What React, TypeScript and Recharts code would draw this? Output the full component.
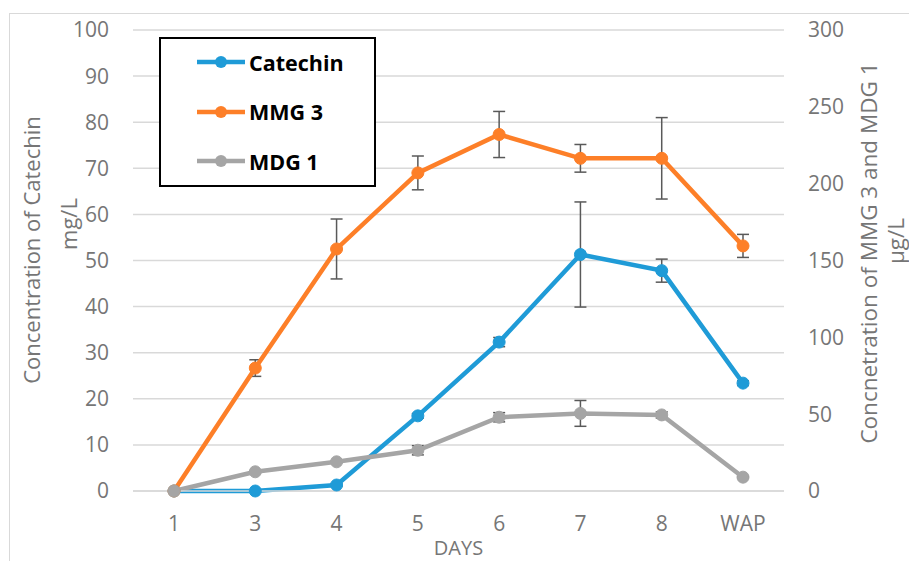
import React from 'react';
import { ComposedChart, Line, XAxis, YAxis, CartesianGrid, ErrorBar, Legend } from 'recharts';

const days = ['1', '3', '4', '5', '6', '7', '8', 'WAP'];
const catechin = [0, 0, 1.3, 16.3, 32.3, 51.3, 47.8, 23.4];
const catechinErr = [0, 0, 0.3, 0.5, 1, 11.4, 2.5, 0.5];
const mmg3 = [0, 80, 157.5, 207, 232, 216.5, 216.5, 159.5];
const mmg3Err = [0, 5.4, 19.5, 11, 15, 9, 26.5, 7.5];
const mdg1 = [0, 12.5, 19, 26.5, 48, 50.5, 49.5, 9];
const mdg1Err = [0, 0.5, 0.5, 3, 3, 8.4, 2, 0.5];

const leftTicks = [0, 10, 20, 30, 40, 50, 60, 70, 80, 90, 100];
const rightTicks = [0, 50, 100, 150, 200, 250, 300];

const BLUE = '#1f9bd7';
const ORANGE = '#fd7f28';
const GRAY = '#a5a5a5';
const TEXT = '#767676';
const FONT = '"Open Sans", "Liberation Sans", sans-serif';

const data = days.map((d, i) => ({
  day: d,
  catechin: catechin[i],
  catechinErr: catechinErr[i],
  mmg3: mmg3[i],
  mmg3Err: mmg3Err[i],
  mdg1: mdg1[i],
  mdg1Err: mdg1Err[i],
}));

const series = [
  { key: 'catechin', name: 'Catechin', color: BLUE },
  { key: 'mmg3', name: 'MMG 3', color: ORANGE },
  { key: 'mdg1', name: 'MDG 1', color: GRAY },
];

const renderLegend = () => (
  <div
    style={{
      position: 'relative',
      boxSizing: 'border-box',
      width: 217,
      height: 150,
      border: '2px solid #000',
      background: '#fff',
      fontFamily: FONT,
    }}
  >
    {series.map((s, i) => (
      <div
        key={s.key}
        style={{
          position: 'absolute',
          left: 0,
          top: 9 + i * 49.5,
          height: 28,
          display: 'flex',
          alignItems: 'center',
        }}
      >
        <svg width={88} height={20} style={{ flex: 'none' }}>
          <line x1={36} y1={10} x2={84} y2={10} stroke={s.color} strokeWidth={4.5} />
          <circle cx={60} cy={10} r={6} fill={s.color} />
        </svg>
        <span style={{ fontWeight: 700, fontSize: 21.5, color: '#000', whiteSpace: 'nowrap' }}>{s.name}</span>
      </div>
    ))}
  </div>
);

const leftTitle = () => (
  <g fill={TEXT} fontFamily={FONT} fontSize={22}>
    <text x={31} y={250} transform="rotate(-90 31 250)" textAnchor="middle" dominantBaseline="central">
      Concentration of Catechin
    </text>
    <text x={68} y={224} transform="rotate(-90 68 224)" textAnchor="middle" dominantBaseline="central">
      mg/L
    </text>
  </g>
);

const rightTitle = () => (
  <g fill={TEXT} fontFamily={FONT} fontSize={22.5}>
    <text x={868} y={253} transform="rotate(-90 868 253)" textAnchor="middle" dominantBaseline="central">
      Concnetration of MMG 3 and MDG 1
    </text>
    <text x={895} y={241} transform="rotate(-90 895 241)" textAnchor="middle" dominantBaseline="central">
      µg/L
    </text>
  </g>
);

const xTitle = (props: any) => {
  const vb = props.viewBox || {};
  const cx = (vb.x || 0) + (vb.width || 0) / 2;
  return (
    <text x={cx} y={547} fill={TEXT} fontFamily={FONT} fontSize={20} textAnchor="middle" dominantBaseline="central">
      DAYS
    </text>
  );
};

export default function App() {
  const tickStyle = { fill: TEXT, fontSize: 21, fontFamily: FONT };
  return (
    <div style={{ position: 'absolute', left: 0, top: 0, width: 909, height: 561, background: '#fff' }}>
      <div
        style={{
          position: 'absolute',
          left: 9,
          top: 13,
          width: 900,
          height: 548,
          borderTop: '1px solid #d9d9d9',
          borderLeft: '1px solid #d9d9d9',
          boxSizing: 'border-box',
        }}
      />
      <div style={{ position: 'absolute', left: 0, top: 0 }}>
        <ComposedChart width={909} height={561} data={data} margin={{ top: 30, right: 65, bottom: 30, left: 73 }}>
          <CartesianGrid yAxisId="left" vertical={false} stroke="#d9d9d9" strokeWidth={1.5} />
          <XAxis
            dataKey="day"
            type="category"
            height={40}
            padding={{ left: 41, right: 41 }}
            axisLine={{ stroke: '#d9d9d9', strokeWidth: 1.5 }}
            tickLine={false}
            tickSize={0}
            tickMargin={25}
            tick={tickStyle}
            interval={0}
            label={{ content: xTitle }}
          />
          <YAxis
            yAxisId="left"
            orientation="left"
            width={60}
            domain={[0, 100]}
            ticks={leftTicks}
            axisLine={false}
            tickLine={false}
            tickSize={0}
            tickMargin={24}
            tick={tickStyle}
            label={{ content: leftTitle }}
          />
          <YAxis
            yAxisId="right"
            orientation="right"
            width={60}
            domain={[0, 300]}
            ticks={rightTicks}
            axisLine={false}
            tickLine={false}
            tickSize={0}
            tickMargin={24}
            tick={{ ...tickStyle, textAnchor: 'start' }}
            label={{ content: rightTitle }}
          />
          <Legend
            layout="vertical"
            align="center"
            verticalAlign="middle"
            content={renderLegend}
            wrapperStyle={{ left: 159, top: 37, width: 217, height: 150, right: 'auto', bottom: 'auto' }}
          />
          <Line
            yAxisId="left"
            dataKey="catechin"
            name="Catechin"
            stroke={BLUE}
            strokeWidth={4.5}
            dot={{ r: 6, fill: BLUE, stroke: BLUE, strokeWidth: 1 }}
            activeDot={false}
            isAnimationActive={false}
          >
            <ErrorBar dataKey="catechinErr" direction="y" width={6} strokeWidth={1.5} stroke="#595959" />
          </Line>
          <Line
            yAxisId="right"
            dataKey="mmg3"
            name="MMG 3"
            stroke={ORANGE}
            strokeWidth={4.5}
            dot={{ r: 6, fill: ORANGE, stroke: ORANGE, strokeWidth: 1 }}
            activeDot={false}
            isAnimationActive={false}
          >
            <ErrorBar dataKey="mmg3Err" direction="y" width={6} strokeWidth={1.5} stroke="#595959" />
          </Line>
          <Line
            yAxisId="right"
            dataKey="mdg1"
            name="MDG 1"
            stroke={GRAY}
            strokeWidth={4.5}
            dot={{ r: 6, fill: GRAY, stroke: GRAY, strokeWidth: 1 }}
            activeDot={false}
            isAnimationActive={false}
          >
            <ErrorBar dataKey="mdg1Err" direction="y" width={6} strokeWidth={1.5} stroke="#595959" />
          </Line>
        </ComposedChart>
      </div>
    </div>
  );
}
